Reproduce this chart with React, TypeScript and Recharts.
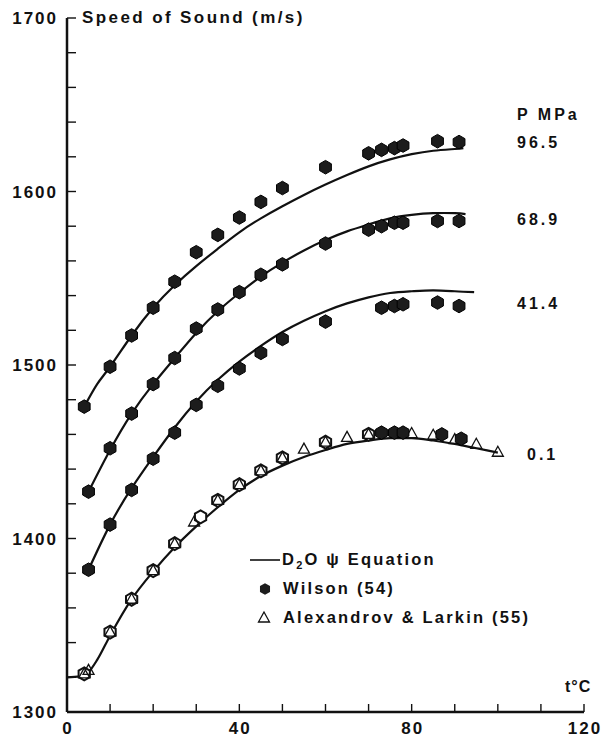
import { ComposedChart, Line, Scatter, XAxis, YAxis, Legend } from 'recharts'

const FONT = '"Liberation Sans", Arial, Helvetica, sans-serif'
const INK = '#111'

// axis ticks
const xTicks = [0, 10, 20, 30, 40, 50, 60, 70, 80, 90, 100, 110, 120]
const xLabels = [0, 40, 80, 120]
const yTicks = [1300, 1320, 1340, 1360, 1380, 1400, 1420, 1440, 1460, 1480, 1500, 1520, 1540, 1560, 1580, 1600, 1620, 1640, 1660, 1680, 1700]
const yLabels = [1300, 1400, 1500, 1600, 1700]

// D2O equation curves (t in degC, speed in m/s)
const eqT965 = [4, 7, 10, 15, 20, 25, 30, 35, 40, 45, 50, 55, 60, 65, 70, 75, 80, 85, 90, 92]
const eqV965 = [1476, 1489, 1499, 1517, 1533, 1546, 1557, 1567, 1576.5, 1584.5, 1591.5, 1598, 1604, 1609.5, 1614.5, 1618.5, 1621.5, 1623.5, 1624.5, 1625]
const eqT689 = [5, 10, 15, 20, 25, 30, 35, 40, 45, 50, 55, 60, 65, 70, 75, 80, 85, 90, 92.5]
const eqV689 = [1427, 1451, 1472, 1489, 1504, 1518.5, 1531, 1541.5, 1551, 1559, 1566, 1572, 1577, 1581, 1584.5, 1586.5, 1587.5, 1587.5, 1587]
const eqT414 = [5, 10, 15, 20, 25, 30, 35, 40, 45, 50, 55, 60, 65, 70, 75, 80, 85, 90, 94.5]
const eqV414 = [1382, 1408, 1429, 1447, 1464, 1479, 1491.5, 1502, 1511, 1519, 1525.5, 1531, 1535.5, 1539, 1541.5, 1542.5, 1543, 1542.5, 1542]
const eqT01 = [0, 3, 5, 7, 10, 15, 20, 25, 30, 35, 40, 45, 50, 55, 60, 65, 70, 75, 80, 85, 90, 95, 100]
const eqV01 = [1320, 1320.5, 1323, 1330, 1344, 1365, 1381, 1395, 1407, 1418, 1428, 1436, 1442, 1447, 1451, 1454.5, 1456.5, 1457.8, 1457.8, 1456.5, 1454.5, 1452, 1449.5]

// Wilson (54)
const wT965 = [4, 10, 15, 20, 25, 30, 35, 40, 45, 50, 60, 70, 73, 76, 78, 86, 91]
const wV965 = [1476, 1499, 1517, 1533, 1548, 1565, 1575, 1585, 1594, 1602, 1614, 1622, 1624, 1625, 1626.5, 1629, 1628.5]
const wT689 = [5, 10, 15, 20, 25, 30, 35, 40, 45, 50, 60, 70, 73, 76, 78, 86, 91]
const wV689 = [1427, 1452, 1472, 1489, 1504, 1521, 1532, 1542, 1552, 1558, 1570, 1578, 1580, 1582, 1582, 1583, 1583]
const wT414 = [5, 10, 15, 20, 25, 30, 35, 40, 45, 50, 60, 73, 76, 78, 86, 91]
const wV414 = [1382, 1408, 1428, 1446, 1461, 1477, 1488, 1498, 1507, 1515, 1525, 1533, 1534, 1535, 1536, 1534]
const wT01 = [73, 76, 78, 87, 91.5]
const wV01 = [1461, 1461, 1461, 1460, 1457.5]
// 0.1 MPa points printed as open hexagons
const oT01 = [4, 10, 15, 20, 25, 31, 35, 40, 45, 50, 60, 70]
const oV01 = [1322, 1346, 1365, 1381.5, 1397, 1412.5, 1422, 1431, 1439, 1446.5, 1455.5, 1460]

// Alexandrov & Larkin (55)
const aT01 = [4, 5, 10, 15, 20, 25, 29.5, 35, 40, 45, 50, 55, 60, 65, 70, 80, 85, 90, 95, 100]
const aV01 = [1322, 1324, 1346, 1365, 1381.5, 1397, 1409.5, 1422, 1431, 1439, 1446.5, 1451.5, 1455.5, 1458.3, 1460, 1460.5, 1459.5, 1457, 1454.3, 1449.7]

const pressures = ['96.5', '68.9', '41.4', '0.1']

const zip = (t: number[], v: number[]) => t.map((x, i) => ({ t: x, v: v[i] }))

const hexPoints = (cx: number, cy: number, r: number) =>
  Array.from({ length: 6 }, (_, i) => {
    const a = -Math.PI / 2 + (i * Math.PI) / 3
    return `${cx + r * Math.cos(a)},${cy + r * Math.sin(a)}`
  }).join(' ')

const FilledHex = (p: any) => <polygon points={hexPoints(p.cx, p.cy, 6.8)} fill="#1c1c1c" stroke="#000" strokeWidth={1} />
const OpenHex = (p: any) => <polygon points={hexPoints(p.cx, p.cy, 6.5)} fill="#fff" stroke={INK} strokeWidth={2} />
const Tri = (p: any) => (
  <polygon points={`${p.cx},${p.cy - 6} ${p.cx - 5.5},${p.cy + 4} ${p.cx + 5.5},${p.cy + 4}`} fill="none" stroke={INK} strokeWidth={1.3} />
)

const tickText = { fontFamily: FONT, fontWeight: 700, fontSize: 17, letterSpacing: 2, fill: INK }

function XTick({ x, y, payload }: any) {
  const v = payload.value
  return (
    <g>
      {v !== 0 && <line x1={x} x2={x} y1={y} y2={y - 8} stroke={INK} strokeWidth={1.4} />}
      {xLabels.includes(v) && (
        <text x={x + 1} y={y + 22} textAnchor="middle" style={tickText}>{v}</text>
      )}
    </g>
  )
}

function YTick({ x, y, payload }: any) {
  const v = payload.value
  return (
    <g>
      {v !== 1300 && <line x1={x} x2={x + 9} y1={y} y2={y} stroke={INK} strokeWidth={1.4} />}
      {yLabels.includes(v) && (
        <text x={x - 9} y={y + 6} textAnchor="end" style={tickText}>{v}</text>
      )}
    </g>
  )
}

function LegendBox() {
  const row = { display: 'flex', alignItems: 'center', height: 29 }
  return (
    <div style={{ fontFamily: FONT, fontWeight: 700, fontSize: 16.5, letterSpacing: 2.2, color: INK, whiteSpace: 'nowrap' as const }}>
      <div style={row}>
        <svg width={34} height={20}><line x1={2} x2={32} y1={10} y2={10} stroke={INK} strokeWidth={1.6} /></svg>
        <span>D<span style={{ fontSize: 11, position: 'relative', top: 4 }}>2</span>O ψ Equation</span>
      </div>
      <div style={row}>
        <svg width={34} height={20}><polygon points={hexPoints(17, 10, 5.8)} fill="#1c1c1c" /></svg>
        <span style={{ marginLeft: 1 }}>Wilson (54)</span>
      </div>
      <div style={row}>
        <svg width={34} height={20}><polygon points="16,4 10.5,14 21.5,14" fill="none" stroke={INK} strokeWidth={1.3} /></svg>
        <span style={{ marginLeft: 1 }}>Alexandrov &amp; Larkin (55)</span>
      </div>
    </div>
  )
}

const note = (left: number, cy: number) => ({
  position: 'absolute' as const, left, top: cy - 10, lineHeight: '20px',
  fontFamily: FONT, fontWeight: 700, fontSize: 16, letterSpacing: 3, color: INK, whiteSpace: 'nowrap' as const,
})

export default function App() {
  const lineProps = { type: 'natural' as const, dataKey: 'v', stroke: INK, strokeWidth: 2.2, dot: false, isAnimationActive: false, legendType: 'none' as const }
  return (
    <div style={{ position: 'absolute', left: 0, top: 0, width: 601, height: 740, background: '#fff' }}>
      <ComposedChart width={601} height={740} margin={{ top: 18, right: 17, bottom: 0, left: 0 }}>
        <XAxis
          type="number" dataKey="t" domain={[0, 120]} ticks={xTicks} interval={0} height={28}
          tickSize={0} tickMargin={0} tickLine={false} tick={<XTick />}
          axisLine={{ stroke: INK, strokeWidth: 2.5 }} allowDataOverflow
        />
        <YAxis
          type="number" dataKey="v" domain={[1300, 1700]} ticks={yTicks} interval={0} width={67}
          tickSize={0} tickMargin={0} tickLine={false} tick={<YTick />}
          axisLine={{ stroke: INK, strokeWidth: 2.5 }} allowDataOverflow
        />
        <Line {...lineProps} data={zip(eqT965, eqV965)} />
        <Line {...lineProps} data={zip(eqT689, eqV689)} />
        <Line {...lineProps} data={zip(eqT414, eqV414)} />
        <Line {...lineProps} type="monotone" data={zip(eqT01, eqV01)} />
        <Scatter data={zip(oT01, oV01)} dataKey="v" shape={OpenHex} isAnimationActive={false} legendType="none" />
        <Scatter data={zip(aT01, aV01)} dataKey="v" shape={Tri} isAnimationActive={false} legendType="none" />
        <Scatter data={zip(wT965, wV965)} dataKey="v" shape={FilledHex} isAnimationActive={false} legendType="none" />
        <Scatter data={zip(wT689, wV689)} dataKey="v" shape={FilledHex} isAnimationActive={false} legendType="none" />
        <Scatter data={zip(wT414, wV414)} dataKey="v" shape={FilledHex} isAnimationActive={false} legendType="none" />
        <Scatter data={zip(wT01, wV01)} dataKey="v" shape={FilledHex} isAnimationActive={false} legendType="none" />
        <Legend
          layout="vertical" align="center" verticalAlign="middle"
          content={() => <LegendBox />}
          wrapperStyle={{ left: 248, top: 545, width: 340 }}
        />
      </ComposedChart>
      <div style={{ ...note(82, 18), fontSize: 17, letterSpacing: 2.4 }}>Speed of Sound (m/s)</div>
      <div style={note(517, 115)}>P MPa</div>
      <div style={note(517, 143)}>{pressures[0]}</div>
      <div style={note(517, 220)}>{pressures[1]}</div>
      <div style={note(517, 304)}>{pressures[2]}</div>
      <div style={note(527, 455)}>{pressures[3]}</div>
      <div style={{ ...note(565, 687), letterSpacing: 1 }}>t°C</div>
    </div>
  )
}
